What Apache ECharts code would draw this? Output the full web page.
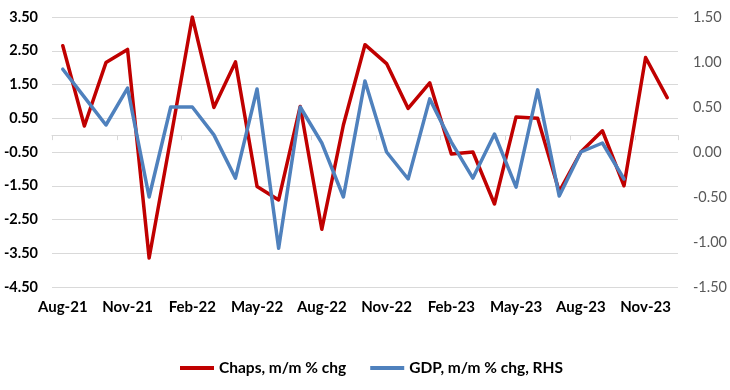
<!DOCTYPE html>
<html>
<head>
<meta charset="utf-8">
<script src="https://cdn.jsdelivr.net/npm/echarts@6/dist/echarts.min.js"></script>
<style>html,body{margin:0;padding:0;background:#fff;}#c{width:730px;height:390px;}</style>
</head>
<body>
<div id="c"></div>
<script>
var categories = ["Aug-21","Sep-21","Oct-21","Nov-21","Dec-21","Jan-22","Feb-22","Mar-22","Apr-22","May-22","Jun-22","Jul-22","Aug-22","Sep-22","Oct-22","Nov-22","Dec-22","Jan-23","Feb-23","Mar-23","Apr-23","May-23","Jun-23","Jul-23","Aug-23","Sep-23","Oct-23","Nov-23","Dec-23"];
var chaps = [2.65,0.27,2.15,2.54,-3.64,-0.1,3.5,0.82,2.17,-1.52,-1.92,0.85,-2.79,0.3,2.68,2.12,0.79,1.55,-0.56,-0.5,-2.04,0.54,0.5,-1.67,-0.5,0.13,-1.5,2.3,1.11];
var gdp = [0.92,0.61,0.3,0.71,-0.5,0.5,0.5,0.19,-0.29,0.7,-1.07,0.5,0.1,-0.5,0.79,0.0,-0.3,0.59,0.11,-0.29,0.2,-0.39,0.69,-0.49,0.0,0.1,-0.3];
var leftTicks = {min:-4.5, max:3.5, step:1};
var rightTicks = {min:-1.5, max:1.5, step:0.5};

var chart = echarts.init(document.getElementById('c'), null, {renderer:'canvas'});
var font = 'Lato';
chart.setOption({
  animation:false,
  backgroundColor:'#ffffff',
  grid:{left:52,right:52,top:17,bottom:103,containLabel:false},
  legend:{
    left:175, top:355,
    itemWidth:34, itemHeight:4, itemGap:24, icon:'rect',
    textStyle:{fontFamily:font,fontWeight:'bold',fontSize:15.5,color:'#000'},
    data:['Chaps, m/m % chg','GDP, m/m % chg, RHS']
  },
  xAxis:[{
    type:'category', data:categories, boundaryGap:true, position:'bottom',
    axisLine:{show:false,onZero:false}, axisTick:{show:false},
    axisLabel:{interval:2, margin:13, fontFamily:font, fontWeight:'bold', fontSize:15, color:'#000'},
    splitLine:{show:false}
  },{
    type:'category', data:categories, boundaryGap:true, position:'bottom',
    axisLine:{show:true,onZero:true,onZeroAxisIndex:0,lineStyle:{color:'#d9d9d9',width:1}},
    axisTick:{show:true,interval:2,length:5,inside:false,lineStyle:{color:'#d9d9d9'}},
    axisLabel:{show:false}, splitLine:{show:false}
  }],
  yAxis:[{
    type:'value', min:leftTicks.min, max:leftTicks.max, interval:leftTicks.step, position:'left',
    axisLine:{show:false}, axisTick:{show:false},
    axisLabel:{margin:14, fontFamily:font, fontWeight:'bold', fontSize:14.5, color:'#000',
      formatter:function(v){return v.toFixed(2);}},
    splitLine:{show:true,lineStyle:{color:'#d9d9d9',width:1}}
  },{
    type:'value', min:rightTicks.min, max:rightTicks.max, interval:rightTicks.step, position:'right',
    axisLine:{show:false}, axisTick:{show:false},
    axisLabel:{margin:15, fontFamily:font, fontSize:14.5, color:'#595959',
      formatter:function(v){return v.toFixed(2);}},
    splitLine:{show:false}
  }],
  series:[{
    name:'Chaps, m/m % chg', type:'line', xAxisIndex:0, yAxisIndex:0, data:chaps,
    showSymbol:false, symbol:'none', color:'#C00000',
    lineStyle:{color:'#C00000',width:3.5,join:'round',cap:'round'}, z:2
  },{
    name:'GDP, m/m % chg, RHS', type:'line', xAxisIndex:0, yAxisIndex:1, data:gdp,
    showSymbol:false, symbol:'none', color:'#4F81BD',
    lineStyle:{color:'#4F81BD',width:3.5,join:'round',cap:'round'}, z:3
  }]
});
</script>
</body>
</html>
